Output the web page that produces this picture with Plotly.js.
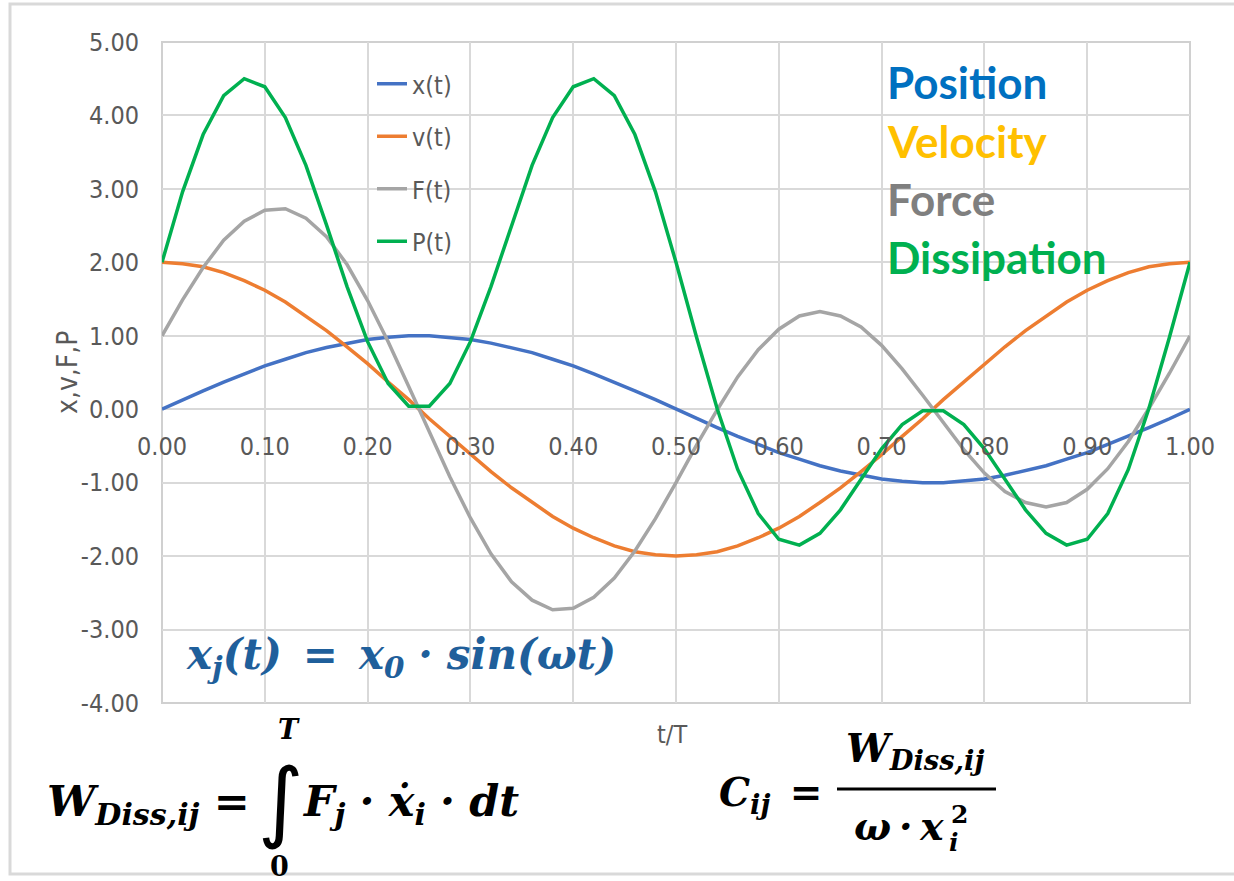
<!DOCTYPE html>
<html>
<head>
<meta charset="utf-8">
<script src="https://cdn.plot.ly/plotly-3.0.1.min.js"></script>
<style>
  html, body { margin: 0; padding: 0; background: #ffffff; }
  #chart { width: 1234px; height: 881px; }
</style>
</head>
<body>
<div id="chart"></div>
<script>
// Normalised time t/T, one sample every 0.02 of the period
const tValues = [0.00, 0.02, 0.04, 0.06, 0.08, 0.10, 0.12, 0.14, 0.16, 0.18,
                 0.20, 0.22, 0.24, 0.26, 0.28, 0.30, 0.32, 0.34, 0.36, 0.38,
                 0.40, 0.42, 0.44, 0.46, 0.48, 0.50, 0.52, 0.54, 0.56, 0.58,
                 0.60, 0.62, 0.64, 0.66, 0.68, 0.70, 0.72, 0.74, 0.76, 0.78,
                 0.80, 0.82, 0.84, 0.86, 0.88, 0.90, 0.92, 0.94, 0.96, 0.98, 1.00];

// Position x(t)
const positionValues = [0.00, 0.13, 0.25, 0.37, 0.48, 0.59, 0.68, 0.77, 0.84, 0.90,
                        0.95, 0.98, 1.00, 1.00, 0.98, 0.95, 0.90, 0.84, 0.77, 0.68,
                        0.59, 0.48, 0.37, 0.25, 0.13, 0.00, -0.13, -0.25, -0.37, -0.48,
                        -0.59, -0.68, -0.77, -0.84, -0.90, -0.95, -0.98, -1.00, -1.00, -0.98,
                        -0.95, -0.90, -0.84, -0.77, -0.68, -0.59, -0.48, -0.37, -0.25, -0.13, 0.00];

// Velocity v(t)
const velocityValues = [2.00, 1.98, 1.94, 1.86, 1.75, 1.62, 1.46, 1.27, 1.07, 0.85,
                        0.62, 0.37, 0.13, -0.13, -0.37, -0.62, -0.85, -1.07, -1.27, -1.46,
                        -1.62, -1.75, -1.86, -1.94, -1.98, -2.00, -1.98, -1.94, -1.86, -1.75,
                        -1.62, -1.46, -1.27, -1.07, -0.85, -0.62, -0.37, -0.13, 0.13, 0.37,
                        0.62, 0.85, 1.07, 1.27, 1.46, 1.62, 1.75, 1.86, 1.94, 1.98, 2.00];

// Force F(t)
const forceValues = [1.00, 1.49, 1.93, 2.30, 2.56, 2.71, 2.73, 2.60, 2.35, 1.97,
                     1.48, 0.92, 0.31, -0.31, -0.92, -1.48, -1.97, -2.35, -2.60, -2.73,
                     -2.71, -2.56, -2.30, -1.93, -1.49, -1.00, -0.49, -0.01, 0.44, 0.81,
                     1.09, 1.27, 1.33, 1.27, 1.12, 0.87, 0.55, 0.19, -0.19, -0.55,
                     -0.87, -1.12, -1.27, -1.33, -1.27, -1.09, -0.81, -0.44, 0.01, 0.49, 1.00];

// Dissipated power P(t)
const powerValues = [2.00, 2.96, 3.74, 4.27, 4.50, 4.39, 3.97, 3.32, 2.51, 1.67,
                     0.92, 0.35, 0.04, 0.04, 0.35, 0.92, 1.67, 2.51, 3.32, 3.97,
                     4.39, 4.50, 4.27, 3.74, 2.96, 2.00, 0.98, 0.01, -0.82, -1.42,
                     -1.77, -1.85, -1.69, -1.37, -0.95, -0.54, -0.21, -0.02, -0.02, -0.21,
                     -0.54, -0.95, -1.37, -1.69, -1.85, -1.77, -1.42, -0.82, 0.01, 0.98, 2.00];

const seriesNames = ['x(t)', 'v(t)', 'F(t)', 'P(t)'];

// Axis ticks and their labels
const xTickValues = [0.0, 0.1, 0.2, 0.3, 0.4, 0.5, 0.6, 0.7, 0.8, 0.9, 1.0];
const xTickLabels = ['0.00', '0.10', '0.20', '0.30', '0.40', '0.50', '0.60', '0.70', '0.80', '0.90', '1.00'];
const yTickValues = [-4, -3, -2, -1, 0, 1, 2, 3, 4, 5];
const yTickLabels = ['-4.00', '-3.00', '-2.00', '-1.00', '0.00', '1.00', '2.00', '3.00', '4.00', '5.00'];

const xRange = [0, 1];
const yRange = [-4, 5];

// Plot box in pixels, used to place the free-standing text in paper units
const W = 1234, H = 881;
const box = { left: 162, right: 1190, top: 42, bottom: 703 };
const px = x => (x - box.left) / (box.right - box.left);
const py = y => (box.bottom - y) / (box.bottom - box.top);

const sans = 'Lato, "Open Sans", sans-serif';
const narrow = '"Liberation Sans Narrow", "DejaVu Sans Condensed", Lato, sans-serif';
const serif = '"DejaVu Serif", "Liberation Serif", serif';
const integralFont = '"DejaVu Sans", "Noto Sans", sans-serif';
const grid = '#D9D9D9';
const tickGrey = '#595959';

const colors = ['#4472C4', '#ED7D31', '#A5A5A5', '#00B050'];
const valueSets = [positionValues, velocityValues, forceValues, powerValues];

const traces = valueSets.map((vals, i) => ({
  type: 'scatter',
  mode: 'lines',
  x: tValues,
  y: vals,
  name: seriesNames[i],
  legendgroup: 'g' + i,
  line: { color: colors[i], width: 3.5, shape: 'linear' },
  hoverinfo: 'x+y+name'
}));

const eqBlue = '#1F5F9B';
const ink = '#000000';

function note(text, x, y, opts) {
  return Object.assign({
    text: text, xref: 'paper', yref: 'paper', x: px(x), y: py(y),
    xanchor: 'center', yanchor: 'middle', showarrow: false
  }, opts);
}

const annotations = [
  // axis titles
  note('t/T', 672, 734, { font: { family: narrow, size: 25, color: tickGrey } }),
  note('x,v,F,P', 67, 373, { textangle: -90, font: { family: narrow, size: 28, color: tickGrey } }),

  // quantity labels
  note('<b>Position</b>', 885, 82, { xanchor: 'left', font: { family: sans, size: 44, color: '#0070C0' } }),
  note('<b>Velocity</b>', 885, 141, { xanchor: 'left', font: { family: sans, size: 44, color: '#FFC000' } }),
  note('<b>Force</b>', 885, 199, { xanchor: 'left', font: { family: sans, size: 44, color: '#7F7F7F' } }),
  note('<b>Dissipation</b>', 885, 257, { xanchor: 'left', font: { family: sans, size: 44, color: '#00B050' } }),

  // excitation
  note('<b><i>x<sub>j</sub>(t)\u2002=\u2002x<sub>0</sub>\u2004·\u2004sin(ωt)</i></b>', 184, 657,
       { xanchor: 'left', font: { family: serif, size: 42, color: eqBlue } }),

  // dissipated work
  note('<b><i>W<sub>Diss,ij</sub></i>\u2004=</b>', 252, 804,
       { xanchor: 'right', font: { family: serif, size: 43, color: ink } }),
  note('∫', 281, 800, { font: { family: integralFont, size: 88, color: ink } }),
  note('<b><i>T</i></b>', 289, 729, { font: { family: serif, size: 27, color: ink } }),
  note('<b>0</b>', 279, 866, { font: { family: serif, size: 27, color: ink } }),
  note('<b><i>F<sub>j</sub>\u2004·\u2004ẋ<sub>i</sub>\u2004·\u2004dt</i></b>', 300, 804,
       { xanchor: 'left', font: { family: serif, size: 43, color: ink } }),

  // damping coefficient
  note('<b><i>C<sub>ij</sub></i>\u2002=</b>', 717, 794,
       { xanchor: 'left', font: { family: serif, size: 39, color: ink } }),
  note('<b><i>W<sub>Diss,ij</sub></i></b>', 915, 750,
       { font: { family: serif, size: 39, color: ink } }),
  note('<b><i>ω\u2009·\u2009x</i></b>', 946, 826,
       { xanchor: 'right', font: { family: serif, size: 39, color: ink } }),
  note('<b>2</b>', 949, 814, { xanchor: 'left', font: { family: serif, size: 25, color: ink } }),
  note('<b><i>i</i></b>', 947, 842, { xanchor: 'left', font: { family: serif, size: 25, color: ink } })
];

const shapes = [
  // outer frame of the figure
  { type: 'rect', xref: 'paper', yref: 'paper',
    x0: px(10), x1: px(1245), y0: py(874), y1: py(4),
    line: { color: grid, width: 3 }, fillcolor: 'rgba(0,0,0,0)', layer: 'below' },
  // frame around the plotting area
  { type: 'rect', xref: 'paper', yref: 'paper', x0: 0, x1: 1, y0: 0, y1: 1,
    line: { color: '#D0D0D0', width: 2 }, fillcolor: 'rgba(0,0,0,0)', layer: 'below' },
  // fraction bar
  { type: 'line', xref: 'paper', yref: 'paper',
    x0: px(837), x1: px(996), y0: py(789), y1: py(789),
    line: { color: ink, width: 3 } }
];

const layout = {
  width: W, height: H,
  margin: { l: box.left, r: W - box.right, t: box.top, b: H - box.bottom, pad: 0 },
  paper_bgcolor: '#ffffff',
  plot_bgcolor: '#ffffff',
  showlegend: true,
  legend: {
    x: px(372), y: py(61), xanchor: 'left', yanchor: 'top',
    bgcolor: 'rgba(0,0,0,0)', borderwidth: 0,
    font: { family: narrow, size: 25, color: tickGrey },
    tracegroupgap: 17, traceorder: 'grouped'
  },
  xaxis: {
    range: xRange,
    tickmode: 'array', tickvals: xTickValues, ticktext: xTickLabels,
    anchor: 'free',
    position: (0 - yRange[0]) / (yRange[1] - yRange[0]),
    showgrid: true, gridcolor: grid, gridwidth: 2,
    zeroline: false, showline: false, ticks: '',
    ticklabelstandoff: 20,
    tickfont: { family: narrow, size: 25, color: tickGrey }
  },
  yaxis: {
    range: yRange,
    tickmode: 'array', tickvals: yTickValues, ticktext: yTickLabels,
    showgrid: true, gridcolor: grid, gridwidth: 2,
    zeroline: false, showline: false, ticks: '',
    ticklabelstandoff: 22,
    tickfont: { family: narrow, size: 25, color: tickGrey }
  },
  annotations: annotations,
  shapes: shapes
};

Plotly.newPlot('chart', traces, layout, { displayModeBar: false, staticPlot: true });
</script>
</body>
</html>
